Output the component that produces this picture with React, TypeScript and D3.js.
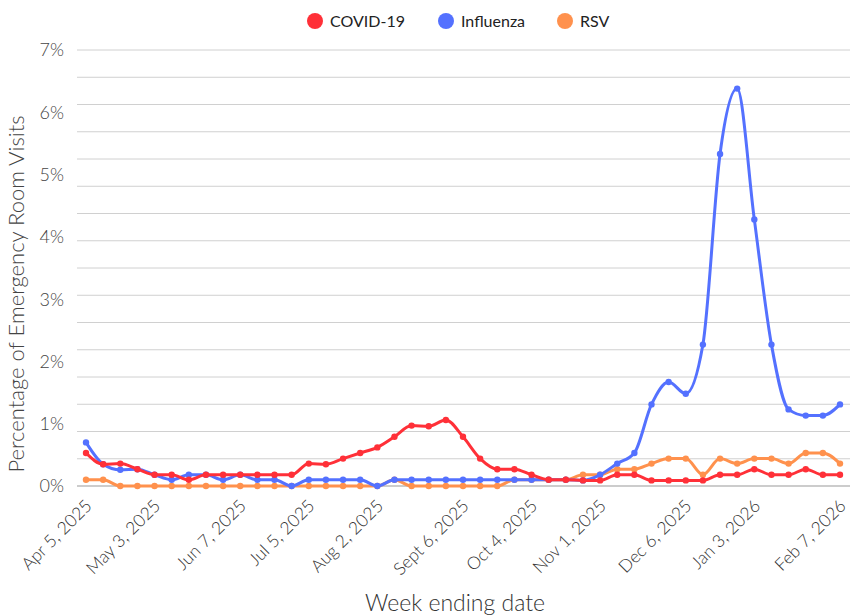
import { useEffect, useRef } from 'react';
import * as d3 from 'd3';

// weekly values, % of emergency room visits (Apr 5, 2025 .. Feb 7, 2026)
const covid = [
  0.53, 0.35, 0.36, 0.27, 0.18, 0.18, 0.1, 0.18, 0.18, 0.18, 0.18, 0.18, 0.18, 0.36, 0.35,
  0.44, 0.53, 0.62, 0.79, 0.97, 0.96, 1.06, 0.79, 0.44, 0.27, 0.27, 0.18, 0.1, 0.1, 0.09,
  0.09, 0.18, 0.18, 0.09, 0.09, 0.09, 0.09, 0.18, 0.18, 0.27, 0.18, 0.18, 0.27, 0.18, 0.18,
];
const influenza = [
  0.7, 0.35, 0.26, 0.27, 0.18, 0.1, 0.18, 0.18, 0.1, 0.18, 0.1, 0.1, 0, 0.1, 0.1,
  0.1, 0.1, 0, 0.1, 0.1, 0.1, 0.1, 0.1, 0.1, 0.1, 0.1, 0.1, 0.1, 0.1, 0.09,
  0.18, 0.36, 0.53, 1.31, 1.67, 1.48, 2.27, 5.33, 6.38, 4.28, 2.27, 1.23, 1.13, 1.13, 1.31,
];
const rsv = [
  0.1, 0.1, 0, 0, 0, 0, 0, 0, 0, 0, 0, 0, 0, 0, 0,
  0, 0, 0, 0.1, 0, 0, 0, 0, 0, 0, 0.1, 0.1, 0.1, 0.1, 0.18,
  0.18, 0.27, 0.27, 0.36, 0.44, 0.44, 0.18, 0.44, 0.36, 0.44, 0.44, 0.36, 0.53, 0.53, 0.36,
];

const seriesNames = ['COVID-19', 'Influenza', 'RSV'];
const seriesColors = ['#ff3038', '#5471ff', '#ff914d'];

const tickWeeks = [0, 4, 9, 13, 17, 22, 26, 30, 35, 39, 44];
const tickLabels = [
  'Apr 5, 2025', 'May 3, 2025', 'Jun 7, 2025', 'Jul 5, 2025', 'Aug 2, 2025', 'Sept 6, 2025',
  'Oct 4, 2025', 'Nov 1, 2025', 'Dec 6, 2025', 'Jan 3, 2026', 'Feb 7, 2026',
];
const yLabels = [0, 1, 2, 3, 4, 5, 6, 7];

const W = 850;
const H = 616;

export default function App() {
  const svgRef = useRef<SVGSVGElement>(null);

  useEffect(() => {
    if (!svgRef.current) return;
    const svg = d3.select(svgRef.current);
    svg.selectAll('*').remove();

    const font = 'Lato, "Open Sans", sans-serif';
    const x = d3.scaleLinear().domain([0, covid.length - 1]).range([86, 840]);
    const y = d3.scaleLinear().domain([0, 7]).range([486, 50]);

    // gridlines (16 intervals)
    const grid = d3.range(1, 17).map((i) => (i * 7) / 16);
    svg
      .append('g')
      .selectAll('line')
      .data(grid)
      .join('line')
      .attr('x1', 77)
      .attr('x2', W)
      .attr('y1', (d) => y(d))
      .attr('y2', (d) => y(d))
      .attr('stroke', '#d0d0d0')
      .attr('stroke-width', 1);

    svg
      .append('line')
      .attr('x1', 77)
      .attr('x2', W)
      .attr('y1', y(0))
      .attr('y2', y(0))
      .attr('stroke', '#999')
      .attr('stroke-width', 1);

    // y labels
    svg
      .append('g')
      .selectAll('text')
      .data(yLabels)
      .join('text')
      .attr('x', 64)
      .attr('y', (d) => y(d))
      .attr('dy', '0.36em')
      .attr('text-anchor', 'end')
      .style('font-family', font)
      .style('font-weight', 300)
      .style('font-size', '18px')
      .style('fill', '#444')
      .text((d) => `${d}%`);

    // x labels
    svg
      .append('g')
      .selectAll('text')
      .data(tickWeeks)
      .join('text')
      .attr('transform', (d) => `translate(${x(d) + 7},${507}) rotate(-45)`)
      .attr('text-anchor', 'end')
      .style('font-family', font)
      .style('font-weight', 300)
      .style('font-size', '17.5px')
      .style('fill', '#333')
      .text((d, i) => tickLabels[i]);

    // axis titles
    svg
      .append('text')
      .attr('transform', `translate(24,${294}) rotate(-90)`)
      .attr('text-anchor', 'middle')
      .style('font-family', font)
      .style('font-weight', 300)
      .style('font-size', '22px')
      .style('fill', '#444')
      .text('Percentage of Emergency Room Visits');

    svg
      .append('text')
      .attr('x', 455)
      .attr('y', 611)
      .attr('text-anchor', 'middle')
      .style('font-family', font)
      .style('font-weight', 300)
      .style('font-size', '23px')
      .style('fill', '#333')
      .text('Week ending date');

    // lines
    const all = [covid, influenza, rsv];
    const line = d3
      .line<number>()
      .x((d, i) => x(i))
      .y((d) => y(d))
      .curve(d3.curveMonotoneX);

    // draw RSV first, then influenza, then covid on top
    [2, 1, 0].forEach((s) => {
      const g = svg.append('g');
      g.append('path')
        .attr('d', line(all[s]) || '')
        .attr('fill', 'none')
        .attr('stroke', seriesColors[s])
        .attr('stroke-width', 3);
      g.selectAll('circle')
        .data(all[s])
        .join('circle')
        .attr('cx', (d, i) => x(i))
        .attr('cy', (d) => y(d))
        .attr('r', 3.2)
        .attr('fill', seriesColors[s]);
    });

    // legend
    const legendX = [315, 446, 565];
    const legend = svg.append('g');
    seriesNames.forEach((name, i) => {
      legend
        .append('circle')
        .attr('cx', legendX[i])
        .attr('cy', 21)
        .attr('r', 8)
        .attr('fill', seriesColors[i]);
      legend
        .append('text')
        .attr('x', legendX[i] + 15)
        .attr('y', 21)
        .attr('dy', '0.36em')
        .style('font-family', font)
        .style('font-size', '16px')
        .style('fill', '#222')
        .text(name);
    });
  }, []);

  return (
    <div style={{ position: 'absolute', left: 0, top: 0 }}>
      <svg ref={svgRef} width={W} height={H} style={{ display: 'block' }} />
    </div>
  );
}
